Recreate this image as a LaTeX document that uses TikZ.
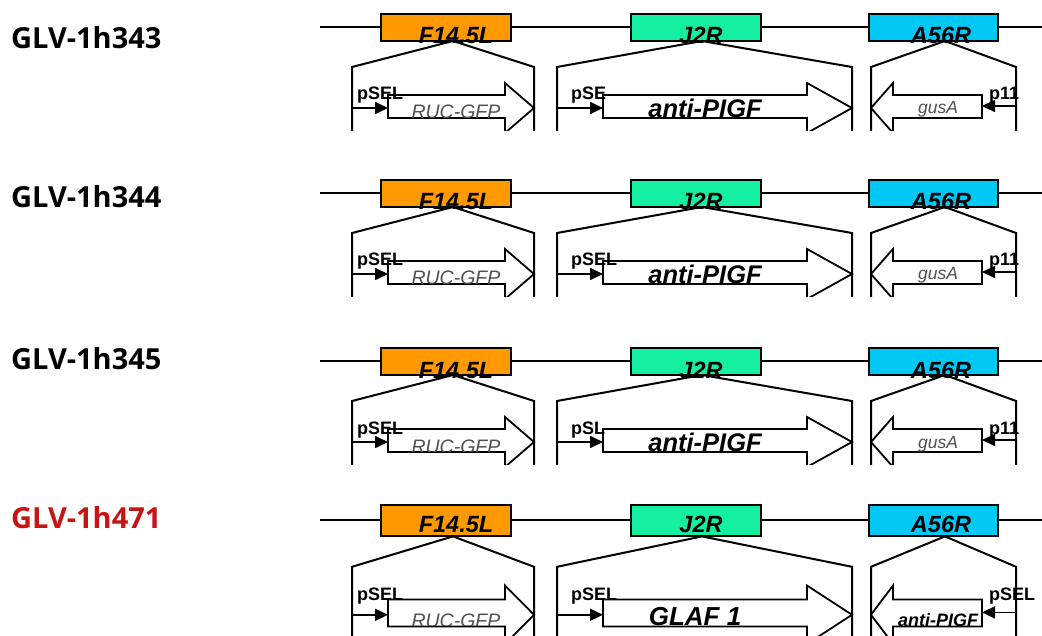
\documentclass[tikz,border=0pt]{standalone}
\usepackage{fontspec}
\setmainfont{Liberation Sans}
\newfontfamily\labfont{Open Sans}
\usetikzlibrary{arrows.meta}
\definecolor{cOr}{RGB}{255,153,0}
\definecolor{cGr}{RGB}{20,240,160}
\definecolor{cBl}{RGB}{0,200,245}
\definecolor{cRed}{RGB}{200,20,20}
\definecolor{cTxt}{RGB}{80,80,80}

\newcommand\LabBase{17}
\newcommand\PBase{73}
\newcommand\GThree{87}

\newcommand\gtwo{\bfseries\itshape\fontsize{25.5}{30}\selectfont}
\newcommand\gtwoB{\bfseries\itshape\fontsize{26}{30}\selectfont}
\newcommand\gthree{\color{cTxt}\itshape\fontsize{17.5}{20}\selectfont}
\newcommand\gthreeB{\bfseries\itshape\fontsize{18}{20}\selectfont}

\tikzset{
  bb/.style={line width=2.6pt},
  ln/.style={line width=2pt, line join=miter},
  gbox/.style={draw, line width=1.8pt, minimum width=130pt, inner sep=0pt},
  gene/.style={draw, fill=white, line width=1.8pt, line join=miter},
  prom/.style={line width=1.7pt, -{Triangle[length=13pt,width=12pt]}},
  glab/.style={font=\bfseries\itshape\fontsize{23.5}{28}\selectfont, anchor=base, inner sep=0pt},
  plab/.style={font=\bfseries\fontsize{18}{20}\selectfont, anchor=base west, inner sep=0pt},
  onelab/.style={font=\itshape\fontsize{19.5}{22}\selectfont, text=cTxt, anchor=base, inner sep=0pt},
  anylab/.style={anchor=base, inner sep=0pt},
  rowlab/.style={font=\labfont\bfseries\fontsize{29}{33}\selectfont, anchor=base west, inner sep=0pt},
}

% #1 y0, #2 yscale, #3 prefix, #4 promoter-2 label, #5 gene-2 text,
% #6 gene-2 x, #7 promoter-3 label, #8 gene-3 text
\newcommand\generow[8]{%
\begin{scope}[shift={(0,#1)}, yscale=#2, name prefix=#3-]
  \clip (300,-30) rectangle (1042,103.5);
  \draw[bb] (320,0) -- (1042,0);
  \node[gbox, fill=cOr, minimum height={27pt*#2}] (b1) at (446,0.5) {};
  \node[gbox, fill=cGr, minimum height={27pt*#2}] (b2) at (696,0.5) {};
  \node[gbox, fill=cBl, minimum height={27pt*#2}, minimum width=129pt] (b3) at (933.5,0.5) {};
  % expansion lines
  \coordinate (a1) at (453,14);
  \coordinate (a2) at (702,14);
  \coordinate (a3) at (945,14);
  \draw[ln] (352,110) -- (352,40) -- (a1) -- (534,40) -- (534,110);
  \draw[ln] (557,110) -- (557,40) -- (a2) -- (852,40) -- (852,110);
  \draw[ln] (871,110) -- (871,40) -- (a3) -- (1016,40) -- (1016,110);
  % box labels
  \node[glab] (l1) at (456,\LabBase) {F14.5L};
  \node[glab] (l2) at (701,\LabBase) {J2R};
  \node[glab] (l3) at (941,\LabBase) {A56R};
  % gene arrows
  \draw[gene] (388,68) -- (505,68) -- (505,56) -- (534,81) -- (505,106) -- (505,91) -- (388,91) -- cycle;
  \draw[gene] (603,68) -- (807,68) -- (807,56) -- (852,81) -- (807,106) -- (807,91) -- (603,91) -- cycle;
  \draw[gene] (982,68) -- (893,68) -- (893,56) -- (871,81) -- (893,106) -- (893,91) -- (982,91) -- cycle;
  % promoters
  \coordinate (s1) at (352,81);
  \coordinate (e1) at (388,81);
  \coordinate (s2) at (557,81);
  \coordinate (e2) at (603,81);
  \coordinate (s3) at (1016,79);
  \coordinate (e3) at (982,79);
  \draw[prom] (s1) -- (e1);
  \draw[prom] (s2) -- (e2);
  \draw[prom] (s3) -- (e3);
  \node[plab] (p1) at (357,\PBase) {pSEL};
  \node[plab] (p2) at (571,\PBase) {#4};
  \node[plab] (p3) at (989,\PBase) {#7};
  % gene texts
  \begin{scope}
    \clip (389,69) rectangle (504,90.5);
    \node[onelab] (g1) at (456,92) {RUC-GFP};
  \end{scope}
  \node[anylab] (g2) at (#6,90.5) {#5};
  \node[anylab] (g3) at (938,\GThree) {#8};
\end{scope}}

\begin{document}
\begin{tikzpicture}[x=1pt, y=-1pt]
  \useasboundingbox[fill=white] (0,0) rectangle (1042,636);
  \node[rowlab] (n1) at (11,49) {GLV-1h343};
  \node[rowlab] (n2) at (11,208) {GLV-1h344};
  \node[rowlab] (n3) at (11,370) {GLV-1h345};
  \node[rowlab, text=cRed] (n4) at (11,528) {GLV-1h471};

  \generow{27}{1}{r1}{pSE}{\gtwo anti-PIGF}{705}{p11}{\gthree gusA}
  \generow{193}{1}{r2}{pSEL}{\gtwo anti-PIGF}{705}{p11}{\gthree gusA}
  \generow{361}{1}{r3}{pSL}{\gtwo anti-PIGF}{705}{p11}{\gthree gusA}
  \renewcommand\LabBase{11}%
  \renewcommand\PBase{68.5}%
  \renewcommand\GThree{91}%
  \generow{520}{1.17}{r4}{pSEL}{\gtwoB GLAF 1}{695}{pSEL}{\gthreeB anti-PIGF}
\end{tikzpicture}
\end{document}
